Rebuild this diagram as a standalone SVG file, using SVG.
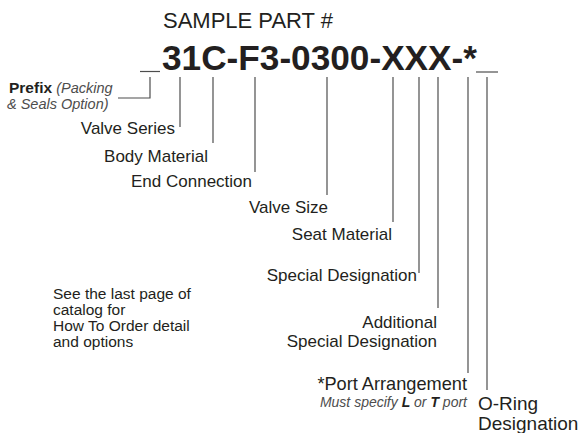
<svg xmlns="http://www.w3.org/2000/svg" width="582" height="433" viewBox="0 0 582 433">
<style>
text{font-family:"Liberation Sans",Arial,sans-serif;fill:#231f20}
.lbl{font-size:17px;text-anchor:end}
.it{font-style:italic;fill:#4d4d4d}
.ln{stroke:#4d4d4d;stroke-width:1.2;fill:none}
.note{font-size:15.5px}
</style>
<rect width="582" height="433" fill="#fff"/>
<g id="title">
<text x="163" y="28" font-size="22">SAMPLE PART #</text>
</g>
<g id="partnumber">
<text x="162" y="70" font-size="35" font-weight="bold" textLength="315" lengthAdjust="spacingAndGlyphs">31C-F3-0300-XXX-*</text>
<line class="ln" x1="140" y1="71.5" x2="160" y2="71.5"/>
<line class="ln" x1="476" y1="72" x2="498" y2="72"/>
</g>
<g id="connectors">
<polyline class="ln" points="150,77 150,98 118,98"/>
<line class="ln" x1="180" y1="77" x2="180" y2="127"/>
<line class="ln" x1="213" y1="77" x2="213" y2="143"/>
<line class="ln" x1="255" y1="77" x2="255" y2="172"/>
<line class="ln" x1="327" y1="77" x2="327" y2="195"/>
<line class="ln" x1="393" y1="77" x2="393" y2="222"/>
<line class="ln" x1="419" y1="77" x2="419" y2="273"/>
<line class="ln" x1="438" y1="77" x2="438" y2="308"/>
<line class="ln" x1="468" y1="77" x2="468" y2="373"/>
<line class="ln" x1="487" y1="77" x2="487" y2="390"/>
</g>
<g id="prefix">
<text x="9" y="93" style="font-size:15px"><tspan font-weight="bold" style="font-size:15.5px">Prefix</tspan> <tspan class="it" style="font-size:14.5px">(Packing</tspan></text>
<text x="7" y="108.5" class="it" style="font-size:14.5px">&amp; Seals Option)</text>
</g>
<g id="valve-series"><text class="lbl" x="175" y="134">Valve Series</text></g>
<g id="body-material"><text class="lbl" x="208" y="162">Body Material</text></g>
<g id="end-connection"><text class="lbl" x="252" y="187">End Connection</text></g>
<g id="valve-size"><text class="lbl" x="328" y="213">Valve Size</text></g>
<g id="seat-material"><text class="lbl" x="392" y="240">Seat Material</text></g>
<g id="special-designation"><text class="lbl" x="417" y="281">Special Designation</text></g>
<g id="additional-special-designation">
<text class="lbl" x="437" y="328">Additional</text>
<text class="lbl" x="437" y="347">Special Designation</text>
</g>
<g id="port-arrangement">
<text class="lbl" x="467" y="390" style="font-size:18.2px">*Port Arrangement</text>
<text x="467" y="407" text-anchor="end" class="it" style="font-size:14px">Must specify <tspan font-weight="bold" fill="#231f20">L</tspan> or <tspan font-weight="bold" fill="#231f20">T</tspan> port</text>
</g>
<g id="o-ring">
<text x="478" y="410" style="font-size:19px">O-Ring</text>
<text x="478" y="430" style="font-size:19px">Designation</text>
</g>
<g id="note">
<text class="note" x="53" y="299">See the last page of</text>
<text class="note" x="53" y="315">catalog for</text>
<text class="note" x="53" y="331">How To Order detail</text>
<text class="note" x="53" y="347">and options</text>
</g>
</svg>
